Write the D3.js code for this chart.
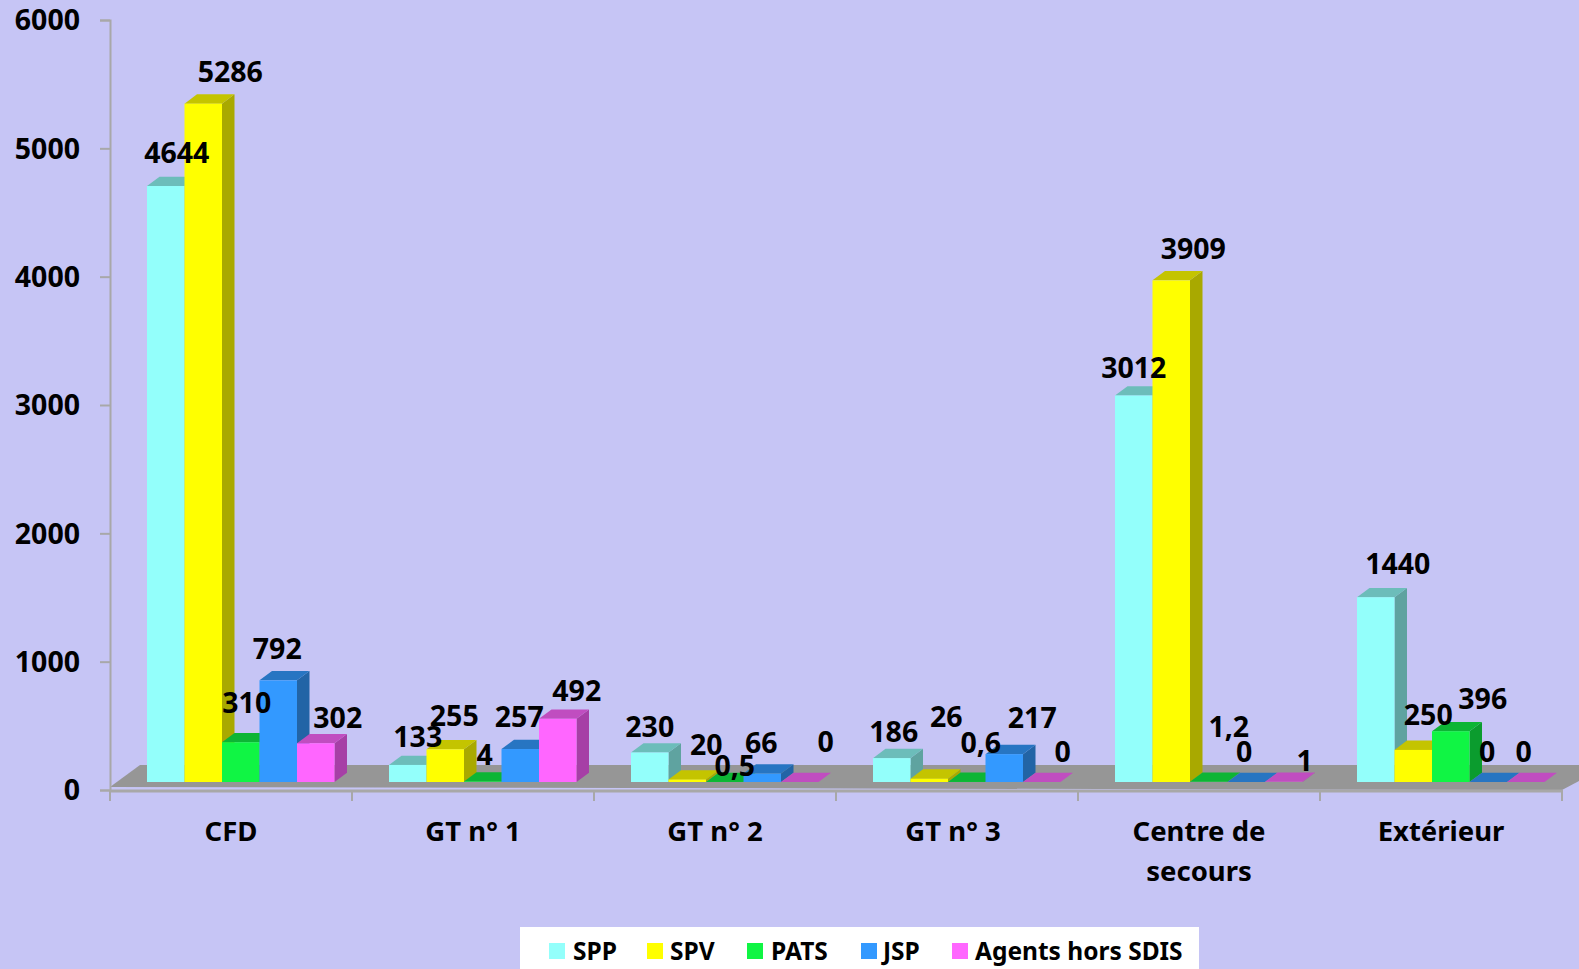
<!DOCTYPE html>
<html>
<head>
<meta charset="utf-8">
<script src="https://cdn.jsdelivr.net/npm/d3@7"></script>
<style>
  body { margin: 0; background: #c6c5f5; }
  svg { display: block; }
  text { font-family: "Noto Sans", sans-serif; font-weight: 700; fill: #000; }
</style>
</head>
<body>
<div id="root"></div>
<script>
const categories = ["CFD", "GT n° 1", "GT n° 2", "GT n° 3", "Centre de secours", "Extérieur"];
const seriesNames = ["SPP", "SPV", "PATS", "JSP", "Agents hors SDIS"];
const yTicks = [0, 1000, 2000, 3000, 4000, 5000, 6000];

const spp = [4644, 133, 230, 186, 3012, 1440];
const spv = [5286, 255, 20, 26, 3909, 250];
const pats = [310, 4, 0.5, 0.6, 1.2, 396];
const jsp = [792, 257, 66, 217, 0, 0];
const agents = [302, 492, 0, 0, 1, 0];
const seriesValues = [spp, spv, pats, jsp, agents];

const frontColors = ["#93fffb", "#ffff00", "#10f544", "#3399ff", "#ff66ff"];
const topColors = ["#6cbdba", "#c4c400", "#0db535", "#2775c2", "#c04dc0"];
const sideColors = ["#5fa3a0", "#a9a900", "#0b9c2e", "#2264a6", "#a63fa6"];

// hand placed data labels in the original, offset from the bar's top centre, one row per category
const labelDx = [
  [11, 27, 6, -1, 22],
  [10, 9, 2, -1, 19],
  [0, 19, 10, -1, 26],
  [2, 17, 14, 28, 21],
  [0, 22, 20, -2, 21],
  [22, 15, 32, -1, -2]
];
const labelDy = [
  [-33, -32, -39, -31, -25],
  [-28, -33, -26, -32, -28],
  [-25, -34, -16, -31, -40],
  [-26, -62, -39, -36, -30],
  [-27, -31, -55, -30, -21],
  [-33, -35, -32, -30, -30]
];

const width = 1579;
const height = 969;
const depthX = 12.5;
const depthY = 9.3;
const frontLift = 8; // bars stand on the floor, slightly above the axis line
const fontSize = 28.5;

const svg = d3.select("#root").append("svg").attr("width", width).attr("height", height);
svg.append("rect").attr("width", width).attr("height", height).attr("fill", "#c6c5f5");

const x0 = d3.scaleBand().domain(d3.range(categories.length)).range([110, 1562]);
const x1 = d3.scaleBand().domain(d3.range(seriesNames.length)).range([37, 224.5]);
const y = d3.scaleLinear().domain([0, 6000]).range([790, 20]);

const baseY = y(0);

// floor
svg.append("polygon")
  .attr("fill", "#969696")
  .attr("points", [
    [110, baseY - 3], [140, baseY - 25], [width, baseY - 25], [width, baseY - 9], [1562, baseY]
  ].join(" "));
svg.append("line")
  .attr("x1", 110).attr("x2", 1562).attr("y1", baseY + 1).attr("y2", baseY + 1)
  .attr("stroke", "#a8a8a8").attr("stroke-width", 3);

// y axis
const yAxis = d3.axisLeft(y).tickValues(yTicks).tickSize(10).tickPadding(20).tickFormat(d3.format("d"));
const yG = svg.append("g").attr("transform", "translate(110,0)").call(yAxis);
yG.select(".domain").attr("stroke", "#a8a8a8").attr("stroke-width", 2);
yG.selectAll(".tick line").attr("stroke", "#a8a8a8").attr("stroke-width", 2);
yG.selectAll("text").attr("font-size", fontSize).attr("dy", "0.35em");

// x axis, ticks sit between the categories
svg.append("g").selectAll("line")
  .data(d3.range(categories.length + 1))
  .join("line")
  .attr("x1", d => 110 + d * x0.step())
  .attr("x2", d => 110 + d * x0.step())
  .attr("y1", baseY).attr("y2", baseY + 11)
  .attr("stroke", "#a8a8a8").attr("stroke-width", 2);

const xAxis = d3.axisBottom(x0).tickSize(0).tickPadding(0).tickFormat(i => categories[i]);
const xG = svg.append("g").attr("transform", `translate(0,${baseY})`).call(xAxis);
xG.select(".domain").remove();
xG.selectAll("text")
  .attr("font-size", 27.5)
  .attr("x", d => (d === 3 ? -4 : 0))
  .attr("y", 41)
  .attr("dy", "0.35em")
  .each(function (d) {
    const words = categories[d].split(" ");
    if (words.length < 3 || categories[d].length < 10) return;
    const text = d3.select(this).text(null);
    text.append("tspan").attr("x", 0).text(words.slice(0, -1).join(" "));
    text.append("tspan").attr("x", 0).attr("dy", "1.46em").text(words[words.length - 1]);
  });

// bars
const bars = [];
categories.forEach((c, g) => {
  seriesValues.forEach((vals, s) => {
    bars.push({ g, s, v: vals[g] });
  });
});

const barLeft = d => x0(d.g) + x1(d.s);
const barTop = d => y(d.v) - frontLift;
const w = x1.bandwidth();
const barBottom = baseY - frontLift;

const barG = svg.append("g").selectAll("g").data(bars).join("g");

barG.append("polygon")
  .attr("fill", d => sideColors[d.s])
  .attr("points", d => {
    const l = barLeft(d) + w, t = barTop(d);
    return [[l, t], [l + depthX, t - depthY], [l + depthX, barBottom - depthY], [l, barBottom]].join(" ");
  });
barG.append("polygon")
  .attr("fill", d => topColors[d.s])
  .attr("points", d => {
    const l = barLeft(d), t = barTop(d);
    return [[l, t], [l + depthX, t - depthY], [l + w + depthX, t - depthY], [l + w, t]].join(" ");
  });
barG.append("rect")
  .attr("fill", d => frontColors[d.s])
  .attr("x", barLeft)
  .attr("y", barTop)
  .attr("width", w)
  .attr("height", d => barBottom - barTop(d));

// data labels go over every bar
svg.append("g").selectAll("text")
  .data(bars)
  .join("text")
  .attr("text-anchor", "middle")
  .attr("dy", "0.35em")
  .attr("font-size", fontSize)
  .attr("x", d => barLeft(d) + w / 2 + labelDx[d.g][d.s])
  .attr("y", d => barTop(d) + labelDy[d.g][d.s])
  .text(d => String(d.v).replace(".", ","));

// legend
const legend = svg.append("g");
legend.append("rect").attr("x", 520).attr("y", 927).attr("width", 679).attr("height", 42).attr("fill", "#fff");

const legendSwatchX = d3.scaleOrdinal().domain(seriesNames).range([549, 647, 747, 861, 952]);
const legendTextX = d3.scaleOrdinal().domain(seriesNames).range([573, 670, 771, 883, 975]);

const legendItem = legend.selectAll("g").data(seriesNames).join("g");
legendItem.append("rect")
  .attr("x", d => legendSwatchX(d))
  .attr("y", 943).attr("width", 16).attr("height", 16)
  .attr("fill", (d, i) => frontColors[i]);
legendItem.append("text")
  .attr("x", d => legendTextX(d))
  .attr("y", 951)
  .attr("dy", "0.35em")
  .attr("font-size", 24.5)
  .text(d => d);
</script>
</body>
</html>
